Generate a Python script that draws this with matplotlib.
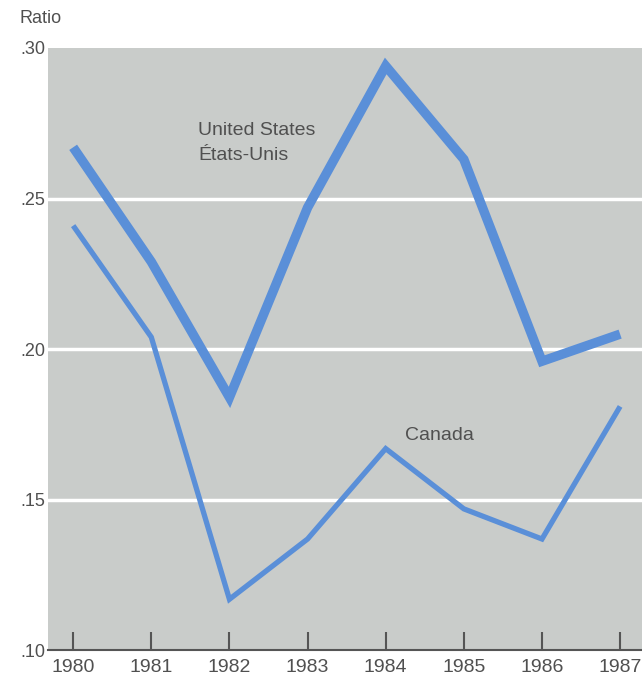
import matplotlib
matplotlib.use("Agg")
import matplotlib.pyplot as plt

plt.rcParams['font.family'] = ['Liberation Sans', 'DejaVu Sans']

years = [1980, 1981, 1982, 1983, 1984, 1985, 1986, 1987]
united_states = [0.267, 0.229, 0.184, 0.247, 0.294, 0.263, 0.196, 0.205]
canada = [0.241, 0.204, 0.117, 0.137, 0.167, 0.147, 0.137, 0.181]
y_ticks = [0.10, 0.15, 0.20, 0.25, 0.30]
y_labels = ['.10', '.15', '.20', '.25', '.30']

line_color = '#5a8fd8'
text_color = '#505050'

fig = plt.figure(figsize=(6.42, 6.84), dpi=100)
ax = fig.add_axes([0.075, 0.049, 0.925, 0.881])
ax.set_facecolor('#c9ccca')

for y in y_ticks[1:-1]:
    ax.axhline(y, color='white', linewidth=2.5, zorder=1)

ax.plot(years, united_states, color=line_color, linewidth=6.8,
        solid_capstyle='butt', solid_joinstyle='miter', zorder=3)
ax.plot(years, canada, color=line_color, linewidth=3.8,
        solid_capstyle='butt', solid_joinstyle='miter', zorder=3)

ax.text(1981.6, 0.2685, 'United States\nÉtats-Unis', fontsize=14,
        color=text_color, linespacing=1.65, va='center', ha='left')
ax.text(1984.25, 0.1715, 'Canada', fontsize=14, color=text_color,
        va='center', ha='left')

ax.set_xlim(1979.68, 1987.28)
ax.set_ylim(0.10, 0.30)
ax.set_xticks(years)
ax.set_xticklabels([str(y) for y in years])
ax.set_yticks(y_ticks)
ax.set_yticklabels(y_labels)

for s in ['top', 'right', 'left']:
    ax.spines[s].set_visible(False)
ax.spines['bottom'].set_color('#555555')
ax.spines['bottom'].set_linewidth(1.5)

ax.tick_params(axis='x', direction='in', length=13, width=1.5, color='#555555',
               labelsize=14, labelcolor=text_color, pad=6)
ax.tick_params(axis='y', length=0, labelsize=13, labelcolor=text_color, pad=2)

fig.text(0.03, 0.973, 'Ratio', fontsize=13, color=text_color, va='center')

fig.savefig('out.png', dpi=100, facecolor='white')
